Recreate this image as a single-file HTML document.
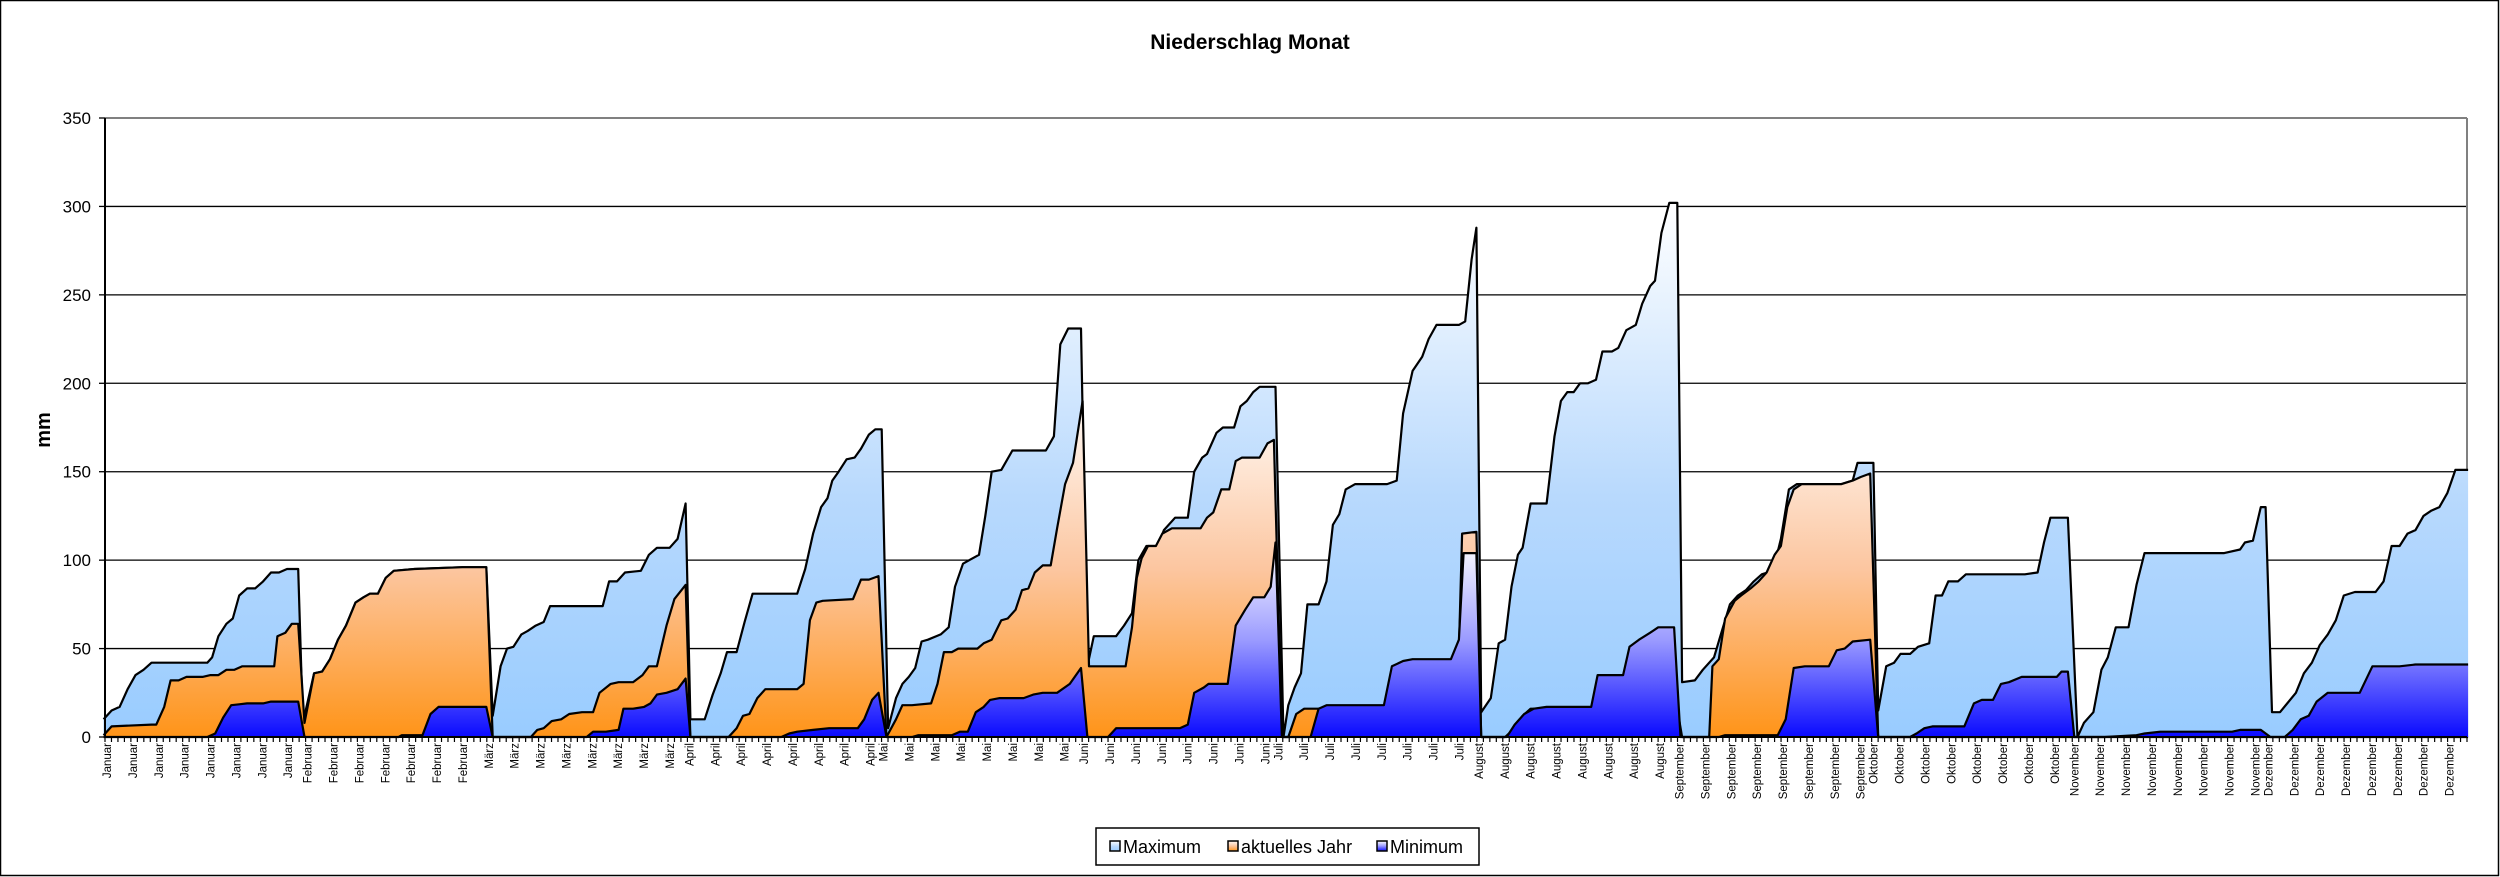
<!DOCTYPE html>
<html><head><meta charset="utf-8"><style>
html,body{margin:0;padding:0;background:#fff}
svg{display:block}
text{font-family:"Liberation Sans",Arial,sans-serif}
</style></head><body>
<svg id="s" width="2500" height="877" xmlns="http://www.w3.org/2000/svg">
<defs>
<linearGradient id="gmax" x1="0" y1="0" x2="0" y2="1"><stop offset="0" stop-color="#ffffff"/><stop offset="0.55" stop-color="#b8d9fd"/><stop offset="1" stop-color="#99ccff"/></linearGradient>
<linearGradient id="gcur" x1="0" y1="0" x2="0" y2="1"><stop offset="0" stop-color="#fffaf6"/><stop offset="0.5" stop-color="#fcc6a0"/><stop offset="1" stop-color="#ff9418"/></linearGradient>
<linearGradient id="gmin" x1="0" y1="0" x2="0" y2="1"><stop offset="0" stop-color="#ffffff"/><stop offset="0.5" stop-color="#9b9bff"/><stop offset="1" stop-color="#0a0aff"/></linearGradient>
</defs>
<rect x="0.5" y="0.5" width="2498" height="875" fill="#fff" stroke="#000" stroke-width="1.5"/>
<text x="1250" y="49" text-anchor="middle" font-size="21" font-weight="bold">Niederschlag Monat</text>
<text transform="translate(50,430) rotate(-90)" text-anchor="middle" font-size="20" font-weight="bold">mm</text>
<g id="grid"></g>
<g id="series"></g>
<g id="axes"></g>
<rect x="1096" y="828" width="383" height="37" fill="#fff" stroke="#000" stroke-width="1.5"/>
<rect x="1110" y="841" width="10" height="10" fill="url(#gmax)" stroke="#000" stroke-width="1.5"/>
<text x="1123" y="853" font-size="18">Maximum</text>
<rect x="1228" y="841" width="10" height="10" fill="url(#gcur)" stroke="#000" stroke-width="1.5"/>
<text x="1241" y="853" font-size="18">aktuelles Jahr</text>
<rect x="1377" y="841" width="10" height="10" fill="url(#gmin)" stroke="#000" stroke-width="1.5"/>
<text x="1390" y="853" font-size="18">Minimum</text>
</svg>
<script>
var NS="http://www.w3.org/2000/svg";
function el(p,t,a,txt){var e=document.createElementNS(NS,t);for(var k in a)e.setAttribute(k,a[k]);if(txt!=null)e.textContent=txt;p.appendChild(e);return e;}
var L=105,R=2467,T=118,B=737;
function Y(v){return B-v*(B-T)/350;}
function X(x){return x*2500/1568;}
var g=document.getElementById('grid');
for(var v=50;v<=300;v+=50){el(g,'line',{x1:L,x2:R,y1:Y(v),y2:Y(v),stroke:'#000','stroke-width':1.3});}
el(g,'line',{x1:L,x2:R,y1:T,y2:T,stroke:'#808080','stroke-width':2});
el(g,'line',{x1:R,x2:R,y1:T,y2:B,stroke:'#808080','stroke-width':2});
var max=[[65,10],[70,15],[75,17],[80,27],[85,35],[90,38],[95,42],[130,42],[133,45],[137,57],[142,64],[146,67],[150,80],[155,84],[160,84],[165,88],[170,93],[175,93],[180,95],[187,95],
[190,8],[197,36],[202,37],[207,44],[212,55],[217,63],[223,76],[228,79],[232,81],[237,81],[242,90],[247,94],[260,95],[290,96],[305,96],
[309,12],[314,40],[318,50],[322,51],[327,58],[331,60],[336,63],[341,65],[345,74],[378,74],[382,88],[387,88],[392,93],[402,94],[407,103],[412,107],[420,107],[425,112],[430,132],
[433,10],[442,10],[447,24],[452,36],[456,48],[462,48],[467,65],[472,81],[500,81],[505,95],[510,115],[515,130],[519,135],[522,145],[526,150],[531,157],[536,158],[540,163],[545,171],[549,174],[553,174],
[557,5],[562,22],[566,30],[570,34],[574,39],[578,54],[582,55],[590,58],[595,62],[599,85],[604,98],[608,100],[614,103],[618,125],[622,150],[628,151],[635,162],[656,162],[661,170],[665,222],[670,231],[678,231],
[682,40],[686,57],[700,57],[705,63],[710,70],[714,100],[719,108],[726,108],[730,117],[737,124],[745,124],[749,150],[754,158],[757,160],[763,172],[767,175],[774,175],[778,187],[782,190],[786,195],[790,198],[800,198],
[805,0],[808,18],[812,28],[816,36],[820,75],[827,75],[832,88],[836,120],[840,126],[844,140],[850,143],[870,143],[876,145],[880,183],[886,207],[892,215],[896,225],[901,233],[915,233],[919,235],[923,270],[926,288],
[929,14],[935,22],[940,53],[944,55],[948,85],[952,103],[955,107],[960,132],[970,132],[975,170],[979,190],[983,195],[987,195],[991,200],[996,200],[1001,202],[1005,218],[1011,218],[1015,220],[1020,230],[1026,233],[1030,245],[1035,255],[1038,258],[1042,285],[1047,302],[1052,302],
[1055,31],[1063,32],[1068,38],[1075,45],[1080,60],[1085,75],[1090,80],[1095,83],[1100,88],[1105,92],[1112,94],[1117,112],[1122,140],[1127,143],[1155,143],[1162,145],[1165,155],[1175,155],
[1178,15],[1183,40],[1188,42],[1192,47],[1198,47],[1203,51],[1210,53],[1214,80],[1218,80],[1222,88],[1228,88],[1233,92],[1270,92],[1278,93],[1282,110],[1286,124],[1297,124],
[1303,0],[1307,8],[1313,14],[1318,38],[1322,45],[1327,62],[1335,62],[1340,86],[1345,104],[1395,104],[1405,106],[1408,110],[1413,111],[1418,130],[1421,130],
[1425,14],[1430,14],[1440,25],[1445,36],[1450,42],[1455,52],[1460,58],[1465,66],[1470,80],[1477,82],[1490,82],[1495,88],[1500,108],[1505,108],[1510,115],[1515,117],[1520,125],[1525,128],[1530,130],[1535,138],[1540,151],[1548,151]];
var cur=[[65,1],[70,6],[95,7],[98,7],[103,17],[107,32],[112,32],[117,34],[127,34],[132,35],[137,35],[142,38],[147,38],[152,40],[172,40],[174,57],[179,59],[183,64],[187,64],
[191,8],[197,36],[202,37],[207,44],[212,55],[217,63],[223,76],[228,79],[232,81],[237,81],[242,90],[247,94],[260,95],[290,96],[305,96],
[309,0],[333,0],[337,4],[341,5],[346,9],[352,10],[357,13],[365,14],[372,14],[376,25],[383,30],[388,31],[397,31],[403,35],[407,40],[412,40],[418,63],[423,78],[430,86],
[433,0],[457,0],[462,5],[466,12],[470,13],[475,22],[480,27],[500,27],[504,30],[508,66],[512,76],[516,77],[535,78],[540,89],[545,89],[551,91],
[556,0],[562,10],[566,18],[572,18],[584,19],[588,30],[592,48],[597,48],[601,50],[613,50],[617,53],[622,55],[628,66],[632,67],[637,72],[641,83],[645,84],[649,93],[654,97],[659,97],[663,118],[668,143],[673,155],[679,190],
[683,40],[706,40],[710,62],[713,90],[716,101],[720,108],[725,108],[729,115],[735,118],[753,118],[757,124],[761,127],[766,140],[771,140],[775,156],[779,158],[790,158],[795,166],[799,168],
[804,0],[808,0],[813,13],[818,16],[914,16],[917,115],[926,116],
[929,0],[944,0],[950,5],[955,12],[960,16],[1052,16],
[1055,0],[1072,0],[1074,40],[1078,44],[1082,67],[1088,77],[1092,80],[1098,84],[1103,88],[1108,93],[1113,103],[1117,108],[1121,130],[1125,140],[1130,143],[1155,143],[1162,145],[1167,147],[1173,149],
[1178,0],[1548,0]];
var min=[[65,0],[130,0],[135,2],[140,11],[145,18],[150,18.5],[155,19],[165,19],[170,20],[187,20],
[191,0],[250,0],[252,1],[265,1],[270,13],[275,17],[305,17],
[309,0],[368,0],[372,3],[380,3],[388,4],[391,16],[397,16],[404,17],[408,19],[412,24],[418,25],[425,27],[430,33],
[433,0],[490,0],[495,2],[500,3],[510,4],[520,5],[538,5],[542,10],[547,21],[551,25],
[556,0],[572,0],[576,1],[597,1],[602,3],[607,3],[612,14],[617,17],[621,21],[627,22],[642,22],[648,24],[654,25],[663,25],[671,30],[678,39],
[682,0],[695,0],[700,5],[740,5],[745,7],[749,25],[755,28],[758,30],[770,30],[775,63],[781,72],[786,79],[793,79],[797,85],[800,110],
[804,0],[822,0],[827,16],[832,18],[868,18],[873,40],[880,43],[886,44],[910,44],[915,55],[918,104],[926,104],
[929,0],[945,0],[950,7],[956,13],[962,16],[970,17],[998,17],[1002,35],[1018,35],[1022,51],[1028,55],[1035,59],[1040,62],[1050,62],
[1054,0],[1078,0],[1082,1],[1115,1],[1120,10],[1125,39],[1132,40],[1147,40],[1152,49],[1157,50],[1162,54],[1173,55],
[1178,0],[1198,0],[1202,2],[1207,5],[1212,6],[1232,6],[1238,19],[1243,21],[1250,21],[1255,30],[1260,31],[1268,34],[1290,34],[1293,37],[1297,37],
[1301,0],[1320,0],[1340,1],[1345,2],[1355,3],[1400,3],[1405,4],[1418,4],
[1424,0],[1433,0],[1438,4],[1443,10],[1448,12],[1453,20],[1460,25],[1480,25],[1488,40],[1505,40],[1515,41],[1548,41]];
var sg=document.getElementById('series');
function draw(d,fill){
 var pts=d.map(function(p){return X(p[0]).toFixed(1)+','+Y(p[1]).toFixed(1);});
 var x0=X(d[0][0]),x1=X(d[d.length-1][0]);
 var area='M'+x0.toFixed(1)+','+B+' L'+pts.join(' L')+' L'+x1.toFixed(1)+','+B+' Z';
 el(sg,'path',{d:area,fill:fill,stroke:'none'});
 el(sg,'path',{d:'M'+pts.join(' L'),fill:'none',stroke:'#000','stroke-width':2.2,'stroke-linejoin':'round'});
}
draw(max,'url(#gmax)');draw(cur,'url(#gcur)');draw(min,'url(#gmin)');
var ax=document.getElementById('axes');
el(ax,'line',{x1:L,x2:L,y1:T,y2:B+1,stroke:'#000','stroke-width':2});
el(ax,'line',{x1:L,x2:R,y1:B,y2:B,stroke:'#000','stroke-width':2});
for(var v=0;v<=350;v+=50){el(ax,'line',{x1:L-6,x2:L,y1:Y(v),y2:Y(v),stroke:'#000','stroke-width':1.3});
 el(ax,'text',{x:91,y:Y(v)+6,'text-anchor':'end','font-size':17},String(v));}
var months=['Januar','Februar','März','April','Mai','Juni','Juli','August','September','Oktober','November','Dezember'];
var dim=[31,28,31,30,31,30,31,31,30,31,30,31];
var dw=(R-L)/365,day=0;
for(var i=0;i<=365;i++){var x=L+i*dw;el(ax,'line',{x1:x,x2:x,y1:B,y2:B+5,stroke:'#000','stroke-width':1.2});}
for(var m=0;m<12;m++){
 for(var d=0;d<dim[m];d+=4){var x=L+(day+d)*dw+6;
  el(ax,'text',{transform:'translate('+x.toFixed(1)+','+(B+6)+') rotate(-90)','text-anchor':'end','font-size':11.5},months[m]);}
 day+=dim[m];}
</script>
</body></html>
